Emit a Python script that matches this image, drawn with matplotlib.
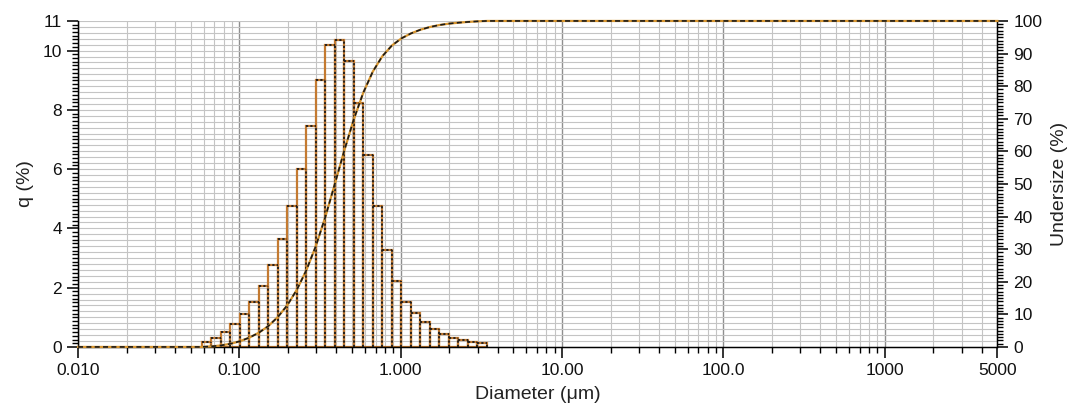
import numpy as np
import matplotlib
matplotlib.use("Agg")
import matplotlib.pyplot as plt
from matplotlib.ticker import FixedLocator, MultipleLocator, NullFormatter

plt.rcParams["font.family"] = ["Liberation Sans", "DejaVu Sans"]

# size class boundaries (um) and frequency per class (%)
bin_edges = [0.0583, 0.0668, 0.0766, 0.0877, 0.1005, 0.1151, 0.1318, 0.1510,
             0.1729, 0.1981, 0.2269, 0.2599, 0.2976, 0.3409, 0.3905, 0.4472,
             0.5122, 0.5867, 0.6720, 0.7697, 0.8816, 1.0097, 1.1565, 1.3246,
             1.5172, 1.7377, 1.9904, 2.2797, 2.6111, 2.9907, 3.4255]
q_percent = [0.16, 0.29, 0.50, 0.79, 1.12, 1.50, 2.06, 2.77, 3.65, 4.76,
             6.01, 7.44, 9.00, 10.20, 10.35, 9.64, 8.23, 6.49, 4.74, 3.28,
             2.21, 1.53, 1.15, 0.84, 0.61, 0.43, 0.29, 0.24, 0.18, 0.12]

x_min, x_max = 0.01, 5000
x_ticks = [0.01, 0.1, 1, 10, 100, 1000, 5000]
x_tick_labels = ["0.010", "0.100", "1.000", "10.00", "100.0", "1000", "5000"]
q_ticks = [0, 2, 4, 6, 8, 10, 11]
undersize_ticks = list(range(0, 101, 10))

edges = np.array(bin_edges)
q = np.array(q_percent)
lefts, rights = edges[:-1], edges[1:]

# undersize curve: cumulative of q at the upper class bounds
cum = np.concatenate([[0.0], np.cumsum(q) / q.sum() * 100])
curve_x = np.concatenate([[x_min], edges, [x_max]])
curve_y = np.concatenate([[0.0], cum, [100.0]])

fig = plt.figure(figsize=(10.69, 4.19), dpi=100)
ax = fig.add_axes([0.073, 0.172, 0.860, 0.778])
ax.set_xscale("log")
ax.set_xlim(x_min, x_max)
ax.set_ylim(0, 11)

# grid: log minors vertically, 0.2 steps horizontally
decades = [10.0 ** k for k in range(-2, 4)]
for d in decades:
    for m in range(1, 10):
        v = d * m
        if v > x_max:
            break
        ax.axvline(v, color="#8f8f8f" if m == 1 else "#c4c4c4",
                   lw=1.0 if m == 1 else 0.8, zorder=0)
for yv in np.arange(0.2, 11.01, 0.2):
    ax.axhline(yv, color="#c4c4c4", lw=0.8, zorder=0)

# histogram: orange outline with black dotted top/right edges
ax.bar(lefts, q, width=rights - lefts, align="edge", fill=False,
       edgecolor="#c47a30", linewidth=1.6, zorder=2)
ax.hlines(q, lefts, rights, colors="#1a1a1a", linestyles=(0, (1.2, 1.2)),
          linewidth=1.3, zorder=3)
ax.vlines(rights, 0, q, colors="#1a1a1a", linestyles=(0, (1.2, 1.2)),
          linewidth=1.3, zorder=3)

ax.xaxis.set_major_locator(FixedLocator(x_ticks))
ax.set_xticklabels(x_tick_labels)
minor_x = [d * m for d in decades for m in range(2, 10) if d * m < x_max]
ax.xaxis.set_minor_locator(FixedLocator(minor_x))
ax.xaxis.set_minor_formatter(NullFormatter())
ax.yaxis.set_major_locator(FixedLocator(q_ticks))
ax.yaxis.set_minor_locator(MultipleLocator(0.125))
ax.tick_params(which="major", direction="out", length=8, width=1.2,
               labelsize=12.5, colors="#111111")
ax.tick_params(which="minor", direction="out", length=4, width=1.0)
ax.set_xlabel("Diameter (μm)", fontsize=14, color="#222222", labelpad=6)
ax.set_ylabel("q (%)", fontsize=14, color="#222222", labelpad=6)
for s in ax.spines.values():
    s.set_linewidth(1.0)
ax.spines["top"].set_visible(False)

ax2 = ax.twinx()
ax2.set_ylim(0, 100)
ax2.spines["top"].set_visible(False)
ax2.plot(curve_x, curve_y, color="#d9962f", lw=1.6, zorder=3, clip_on=False)
ax2.plot(curve_x, curve_y, color="#1a1a1a", lw=1.2, linestyle=(0, (3, 2)),
         zorder=4, clip_on=False)
ax2.yaxis.set_major_locator(FixedLocator(undersize_ticks))
ax2.yaxis.set_minor_locator(MultipleLocator(1))
ax2.tick_params(which="major", direction="out", length=8, width=1.2,
                labelsize=12.5, colors="#111111")
ax2.tick_params(which="minor", direction="out", length=4, width=1.0)
ax2.set_ylabel("Undersize (%)", fontsize=14, color="#222222", labelpad=6)

fig.savefig("out.png", dpi=100)
